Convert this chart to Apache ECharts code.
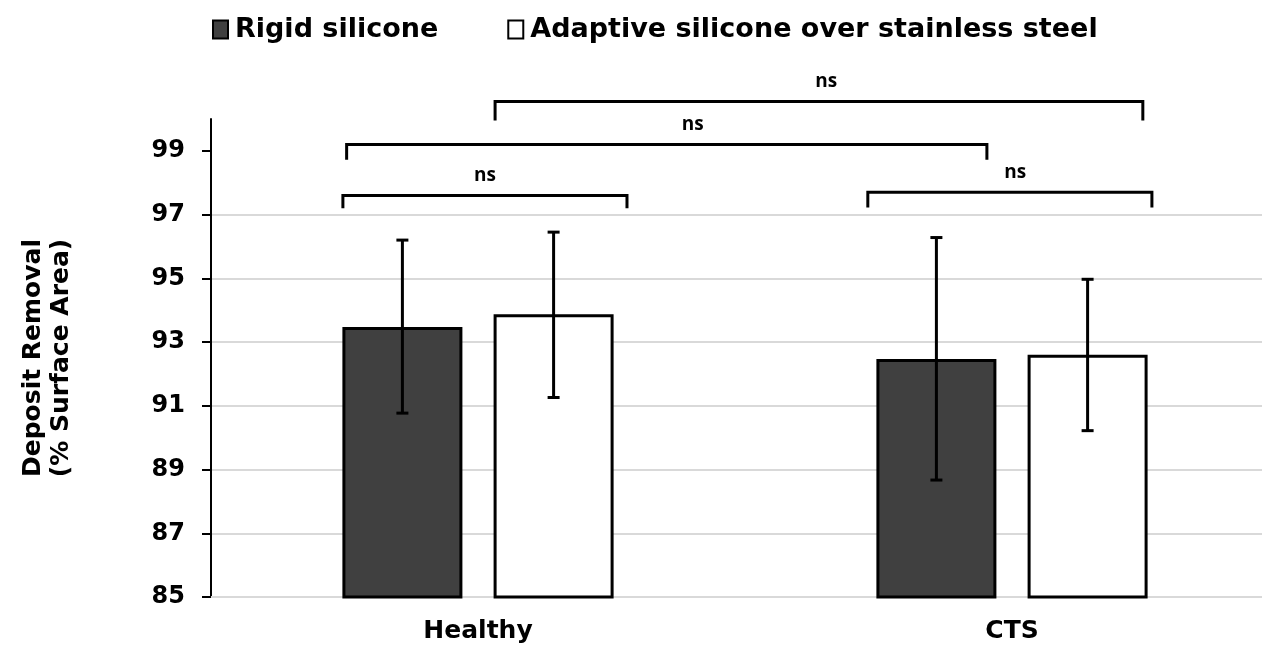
<!DOCTYPE html>
<html>
<head>
<meta charset="utf-8">
<script src="https://cdn.jsdelivr.net/npm/echarts@6/dist/echarts.min.js"></script>
<style>
  html, body { margin: 0; padding: 0; background: #fff; overflow: hidden; }
  #main { width: 1280px; height: 646px; }
</style>
</head>
<body>
<div id="main"></div>
<script>
// data
var groups = ['Healthy', 'CTS'];
var rigidMean = [93.47, 92.47];
var rigidLow = [90.77, 88.67];
var rigidHigh = [96.2, 96.28];
var adaptiveMean = [93.87, 92.6];
var adaptiveLow = [91.26, 90.22];
var adaptiveHigh = [96.45, 94.97];
var yTicks = [85, 87, 89, 91, 93, 95, 97, 99];

// significance brackets: [startCat, startOff, endCat, endOff, lineY, legY, labelCat, labelOff]
var brackets = [
  [0, -0.253, 0, 0.279, 97.6, 97.2, 0, 0.013],
  [0, -0.246, 1, -0.047, 99.2, 98.72, 0, 0.402],
  [0, 0.032, 1, 0.245, 100.55, 99.95, 0, 0.652],
  [1, -0.27, 1, 0.262, 97.7, 97.22, 1, 0.006]
];

var BAR_W = 120;
var BAR_GAP = 0.26;
var FONT = '"DejaVu Sans", sans-serif';

var chartDom = document.getElementById('main');
var myChart = echarts.init(chartDom);
var option;

function errorSeries(lows, highs, side) {
  var data = [];
  for (var i = 0; i < lows.length; i++) data.push([i, lows[i], highs[i]]);
  return {
    type: 'custom',
    name: 'err' + side,
    data: data,
    encode: { x: 0, y: [1, 2] },
    z: 5,
    renderItem: function (params, api) {
      var hi = api.coord([api.value(0), api.value(2)]);
      var lo = api.coord([api.value(0), api.value(1)]);
      var x = hi[0] + side * (BAR_W + BAR_W * BAR_GAP) / 2;
      var cap = 6;
      var st = { stroke: '#000', lineWidth: 3 };
      return {
        type: 'group',
        children: [
          { type: 'line', shape: { x1: x, y1: hi[1], x2: x, y2: lo[1] }, style: st },
          { type: 'line', shape: { x1: x - cap, y1: hi[1], x2: x + cap, y2: hi[1] }, style: st },
          { type: 'line', shape: { x1: x - cap, y1: lo[1], x2: x + cap, y2: lo[1] }, style: st }
        ]
      };
    }
  };
}

option = {
  animation: false,
  backgroundColor: '#fff',
  textStyle: { fontFamily: FONT },
  legend: {
    data: ['Rigid silicone', 'Adaptive silicone over stainless steel'],
    left: 212,
    top: 16,
    padding: 0,
    icon: 'rect',
    itemWidth: 15,
    itemHeight: 18,
    itemGap: 69,
    itemStyle: { borderWidth: 2, borderColor: '#000' },
    textStyle: { fontFamily: FONT, fontWeight: 'bold', fontSize: 27, color: '#000', padding: [0, 0, 0, 2] }
  },
  grid: { left: 211, top: 119, width: 1068, height: 478 },
  xAxis: {
    type: 'category',
    data: groups,
    axisLine: { lineStyle: { color: '#d9d9d9', width: 2 } },
    axisTick: { show: false },
    axisLabel: { fontFamily: FONT, fontWeight: 'bold', fontSize: 25, color: '#000', margin: 22 },
    splitLine: { show: false }
  },
  yAxis: {
    type: 'value',
    min: 85,
    max: 100,
    interval: 2,
    name: 'Deposit Removal\n(% Surface Area)',
    nameLocation: 'middle',
    nameGap: 136,
    nameRotate: 90,
    nameTextStyle: { fontFamily: FONT, fontWeight: 'bold', fontSize: 25, color: '#000', lineHeight: 28 },
    axisLine: { show: true, lineStyle: { color: '#000', width: 2 } },
    axisTick: { show: true, length: 9, customValues: yTicks, lineStyle: { color: '#000', width: 2 } },
    axisLabel: { customValues: yTicks, fontFamily: FONT, fontWeight: 'bold', fontSize: 24, color: '#000', margin: 26 },
    splitLine: { show: true, showMaxLine: false, showMinLine: false, lineStyle: { color: '#d9d9d9', width: 2 } }
  },
  series: [
    {
      name: 'Rigid silicone',
      type: 'bar',
      data: rigidMean,
      barWidth: BAR_W,
      barGap: (BAR_GAP * 100) + '%',
      itemStyle: { color: '#404040', borderColor: '#000', borderWidth: 3 }
    },
    {
      name: 'Adaptive silicone over stainless steel',
      type: 'bar',
      data: adaptiveMean,
      barWidth: BAR_W,
      itemStyle: { color: '#fff', borderColor: '#000', borderWidth: 3 }
    },
    errorSeries(rigidLow, rigidHigh, -1),
    errorSeries(adaptiveLow, adaptiveHigh, 1),
    {
      type: 'custom',
      name: 'brackets',
      data: brackets,
      encode: { x: 0, y: 4 },
      clip: false,
      z: 6,
      renderItem: function (params, api) {
        var band = api.size([1, 0])[0];
        var line = api.coord([0, api.value(4)])[1];
        var leg = api.coord([0, api.value(5)])[1];
        var x1 = api.coord([api.value(0), 85])[0] + api.value(1) * band;
        var x2 = api.coord([api.value(2), 85])[0] + api.value(3) * band;
        var lx = api.coord([api.value(6), 85])[0] + api.value(7) * band;
        return {
          type: 'group',
          children: [
            {
              type: 'polyline',
              shape: { points: [[x1, leg], [x1, line], [x2, line], [x2, leg]] },
              style: { stroke: '#000', lineWidth: 3, fill: null }
            },
            {
              type: 'text',
              style: {
                text: 'ns', x: lx, y: line - 10,
                align: 'center', verticalAlign: 'bottom',
                font: 'bold 19px "Open Sans", sans-serif', fill: '#000'
              }
            }
          ]
        };
      }
    }
  ]
};

option && myChart.setOption(option);
</script>
</body>
</html>
